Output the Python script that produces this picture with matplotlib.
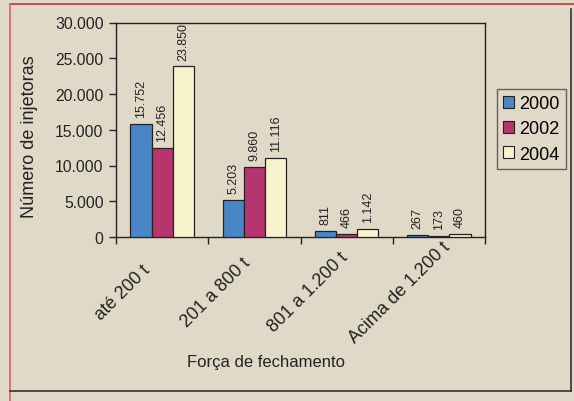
import matplotlib
matplotlib.use("Agg")
import matplotlib.pyplot as plt
import matplotlib.transforms as mtransforms
from matplotlib.lines import Line2D
from matplotlib.ticker import FuncFormatter, MultipleLocator
import numpy as np

plt.rcParams['font.family'] = ['Liberation Sans', 'DejaVu Sans']

categories = ["até 200 t", "201 a 800 t", "801 a 1.200 t", "Acima de 1.200 t"]
series_names = ["2000", "2002", "2004"]
values_2000 = [15752, 5203, 811, 267]
values_2002 = [12456, 9860, 466, 173]
values_2004 = [23850, 11116, 1142, 460]
series_values = [values_2000, values_2002, values_2004]
colors = ["#4a86c6", "#b6356f", "#f8f3cc"]
bg = "#e0d9c8"
W, H = 574, 402

def fmt_thousands(v):
    return f"{int(round(v)):,}".replace(",", ".")

fig = plt.figure(figsize=(W/100, H/100), dpi=100, facecolor=bg)
ax = fig.add_axes([116/W, 1-238/H, (485-116)/W, (238-23.5)/H])
ax.set_facecolor(bg)

x = np.arange(len(categories))
w = 0.23
for i, (name, vals) in enumerate(zip(series_names, series_values)):
    pos = x + (i - 1) * w
    ax.bar(pos, vals, width=w, color=colors[i], edgecolor="#222222",
           linewidth=0.9, label=name, zorder=3)
    for xp, v in zip(pos, vals):
        ax.annotate(fmt_thousands(v), (xp, v), xytext=(0, 5), textcoords="offset points",
                    rotation=90, ha="center", va="bottom", fontsize=9, color="#222222")

ax.set_xlim(-0.5, len(categories) - 0.5)
ax.set_ylim(0, 30000)
ax.yaxis.set_major_locator(MultipleLocator(5000))
ax.yaxis.set_major_formatter(FuncFormatter(lambda v, p: fmt_thousands(v)))
ax.tick_params(axis="y", labelsize=11.3, length=5, width=1, colors="#222222", pad=4)
ax.set_xticks(np.arange(len(categories) + 1) - 0.5)
ax.set_xticklabels([])
ax.tick_params(axis="x", length=5, width=1, colors="#222222")
for s in ax.spines.values():
    s.set_color("#222222")
    s.set_linewidth(1)

# category labels, rotated 45 degrees, centred left of and below each category
blend = mtransforms.blended_transform_factory(ax.transData, fig.transFigure)
shift = mtransforms.ScaledTranslation(-39/100, 0, fig.dpi_scale_trans)
for xi, lab in zip(x, categories):
    fig.text(xi, 1 - 293/H, lab, transform=blend + shift, rotation=45,
             ha="center", va="center", fontsize=13, color="#222222")

fig.text(30/W, 1-137/H, "Número de injetoras", rotation=90, ha="center", va="center",
         fontsize=13, color="#222222")
fig.text(266/W, 1-363/H, "Força de fechamento", ha="center", va="center",
         fontsize=12, color="#222222")

leg = fig.legend(loc="upper left", bbox_to_anchor=(497/W, 1-90/H), fontsize=13,
                 frameon=True, fancybox=False, edgecolor="#444444", facecolor=bg,
                 handlelength=0.6, handleheight=0.6, handletextpad=0.3,
                 labelspacing=0.45, borderpad=0.35, borderaxespad=0)
leg.get_frame().set_linewidth(1)
for h in leg.legend_handles:
    h.set_edgecolor("#222222")
    h.set_linewidth(0.8)

# outer frame lines
fig.add_artist(Line2D([10/W, 1], [1-5/H, 1-5/H], color="#c0393b", lw=1.2, transform=fig.transFigure))
fig.add_artist(Line2D([10/W, 10/W], [0, 1-5/H], color="#e06060", lw=1.2, transform=fig.transFigure))
fig.add_artist(Line2D([10/W, 571/W], [1-392/H, 1-392/H], color="#333333", lw=1.2, transform=fig.transFigure))
fig.add_artist(Line2D([571/W, 571/W], [1-392/H, 1-10/H], color="#333333", lw=1.2, transform=fig.transFigure))

fig.savefig("out.png", dpi=100, facecolor=bg)
